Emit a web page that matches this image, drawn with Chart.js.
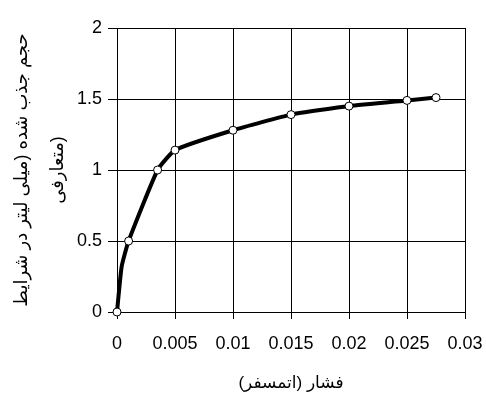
<!DOCTYPE html>
<html>
<head>
<meta charset="utf-8">
<script src="https://cdn.jsdelivr.net/npm/chart.js@4"></script>
<style>
  html, body { margin: 0; padding: 0; background: #fff; }
  #wrap { width: 486px; height: 394px; }
</style>
</head>
<body>
<div id="wrap"><canvas id="grafico" width="486" height="394"></canvas></div>
<script>
// فشار (اتمسفر) و حجم جذب شده
const fashar = [0, 0.0004, 0.001, 0.0035, 0.005, 0.01, 0.015, 0.02, 0.025, 0.0275];
const hajm = [0, 0.32, 0.5, 1.0, 1.14, 1.28, 1.39, 1.45, 1.49, 1.51];
const marker = [4, 0, 4, 4, 4, 4, 4, 4, 4, 4];
const xTicks = [0, 0.005, 0.01, 0.015, 0.02, 0.025, 0.03];
const yTicks = [0, 0.5, 1, 1.5, 2];
const xTitle = "فشار (اتمسفر)";
const yTitle = ["حجم جذب شده (میلی لیتر در شرایط", "متعارفی)"];

const fuente = "Arial, 'Liberation Sans', 'DejaVu Sans', sans-serif";

const puntos = fashar.map((x, i) => ({ x: x, y: hajm[i] }));

new Chart(document.getElementById("grafico"), {
    type: "scatter",
    data: {
        datasets: [{
            data: puntos,
            showLine: true,
            clip: false,
            borderColor: "#000",
            borderWidth: 4,
            tension: 0.15,
            pointRadius: marker,
            pointStyle: "circle",
            pointBackgroundColor: "#fff",
            pointBorderColor: "#000",
            pointBorderWidth: 1
        }]
    },
    options: {
        responsive: false,
        animation: false,
        layout: { padding: { top: 28, right: 0, bottom: 0, left: 4 } },
        plugins: { legend: { display: false }, tooltip: { enabled: false } },
        scales: {
            x: {
                type: "linear",
                min: 0,
                max: 0.03,
                afterBuildTicks: (s) => { s.ticks = xTicks.map(v => ({ value: v })); },
                afterFit: (s) => { s.height = 82; s.paddingRight = 21; },
                grid: { color: "#000", lineWidth: 1, tickLength: 7 },
                border: { color: "#000", width: 1 },
                ticks: {
                    color: "#000",
                    font: { family: fuente, size: 18 },
                    padding: 14,
                    maxRotation: 0,
                    callback: (v) => String(v)
                },
                title: {
                    display: true,
                    text: xTitle,
                    color: "#000",
                    font: { family: fuente, size: 17 },
                    padding: { top: 8, bottom: 0 }
                }
            },
            y: {
                min: 0,
                max: 2,
                afterBuildTicks: (s) => { s.ticks = yTicks.map(v => ({ value: v })); },
                afterFit: (s) => { s.width = 113; },
                grid: { color: "#000", lineWidth: 1, tickLength: 9 },
                border: { color: "#000", width: 1 },
                ticks: {
                    color: "#000",
                    font: { family: fuente, size: 18 },
                    padding: 6,
                    callback: (v) => String(v)
                },
                title: {
                    display: true,
                    text: yTitle,
                    color: "#000",
                    font: { family: fuente, size: 18, lineHeight: 2.0 },
                    padding: { top: 0, bottom: 4 }
                }
            }
        }
    }
});
</script>
</body>
</html>
